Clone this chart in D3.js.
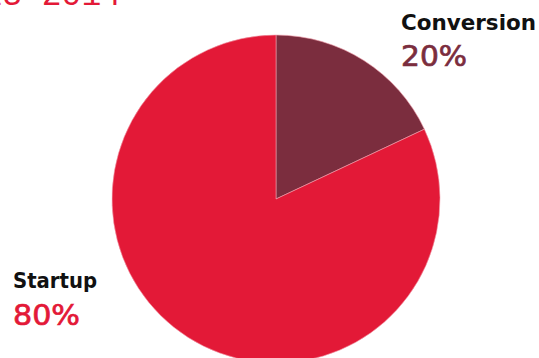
<!DOCTYPE html>
<html>
<head>
<meta charset="utf-8">
<script src="https://cdn.jsdelivr.net/npm/d3@7"></script>
<style>
  body { margin: 0; background: #fff; }
  svg { display: block; }
</style>
</head>
<body>
<div id="chart"></div>
<script>
const layout = {
    width: 539,
    height: 358,
    cx: 276,
    cy: 199,
    radius: 164
};

// slice shares as drawn in the picture, and the labels printed beside them
const categories = ["Conversion", "Startup"];
const values = [18, 82];
const percentLabels = ["20%", "80%"];
const colors = ["#7b2d3e", "#e31937"];
const titleText = "2013 2014";

let svg = d3.select("#chart").append("svg")
    .attr("width", layout.width)
    .attr("height", layout.height);

// title, cut off at the top edge like the original
svg.append("text")
    .attr("x", 121)
    .attr("y", 5)
    .attr("text-anchor", "end")
    .attr("font-family", "Liberation Mono, monospace")
    .attr("font-size", 33)
    .attr("fill", "#e31937")
    .text(titleText);

let pie = d3.pie().sort(null).value(d => d);
let arc = d3.arc().innerRadius(0).outerRadius(layout.radius);

let slices = svg.append("g")
    .attr("transform", `translate(${layout.cx},${layout.cy})`);

slices.selectAll("path")
    .data(pie(values))
    .join("path")
    .attr("d", arc)
    .attr("fill", (d, i) => colors[i])
    .attr("stroke", "#f2a0ac")
    .attr("stroke-width", 0.6);

// labels
const labelPos = [
    {x: 401, y1: 30, y2: 66, w1: 135, w2: 66},
    {x: 13, y1: 288, y2: 325, w1: 84, w2: 67}
];

categories.forEach((c, i) => {
    svg.append("text")
        .attr("x", labelPos[i].x)
        .attr("y", labelPos[i].y1)
        .attr("font-family", "DejaVu Sans, sans-serif")
        .attr("font-weight", 700)
        .attr("font-size", 21)
        .attr("textLength", labelPos[i].w1)
        .attr("lengthAdjust", "spacingAndGlyphs")
        .attr("fill", "#111")
        .text(c);
    svg.append("text")
        .attr("x", labelPos[i].x)
        .attr("y", labelPos[i].y2)
        .attr("font-family", "DejaVu Sans, sans-serif")
        .attr("font-size", 28)
        .attr("textLength", labelPos[i].w2)
        .attr("lengthAdjust", "spacingAndGlyphs")
        .attr("fill", colors[i])
        .attr("stroke", colors[i])
        .attr("stroke-width", 0.7)
        .text(percentLabels[i]);
});
</script>
</body>
</html>
